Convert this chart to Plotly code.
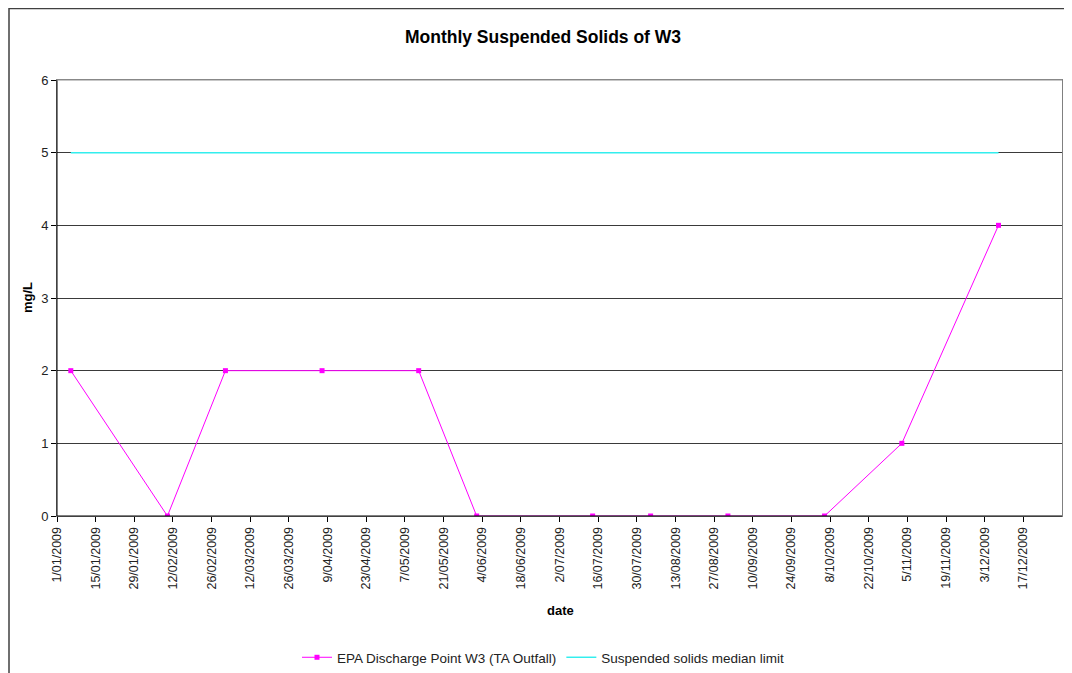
import plotly.graph_objects as go

dates = ["2009-01-06", "2009-02-10", "2009-03-03", "2009-04-07", "2009-05-12",
         "2009-06-02", "2009-07-14", "2009-08-04", "2009-09-01", "2009-10-06",
         "2009-11-03", "2009-12-08"]
solids = [2, 0, 2, 2, 2, 0, 0, 0, 0, 0, 1, 4]
limit = [5] * len(dates)

tick_vals = ["2009-01-01", "2009-01-15", "2009-01-29", "2009-02-12", "2009-02-26",
             "2009-03-12", "2009-03-26", "2009-04-09", "2009-04-23", "2009-05-07",
             "2009-05-21", "2009-06-04", "2009-06-18", "2009-07-02", "2009-07-16",
             "2009-07-30", "2009-08-13", "2009-08-27", "2009-09-10", "2009-09-24",
             "2009-10-08", "2009-10-22", "2009-11-05", "2009-11-19", "2009-12-03",
             "2009-12-17"]
tick_text = ["1/01/2009", "15/01/2009", "29/01/2009", "12/02/2009", "26/02/2009",
             "12/03/2009", "26/03/2009", "9/04/2009", "23/04/2009", "7/05/2009",
             "21/05/2009", "4/06/2009", "18/06/2009", "2/07/2009", "16/07/2009",
             "30/07/2009", "13/08/2009", "27/08/2009", "10/09/2009", "24/09/2009",
             "8/10/2009", "22/10/2009", "5/11/2009", "19/11/2009", "3/12/2009",
             "17/12/2009"]

FONT = "Liberation Sans, Arial, sans-serif"

fig = go.Figure()
fig.add_trace(go.Scatter(
    x=dates, y=solids, mode="lines+markers",
    name="EPA Discharge Point W3 (TA Outfall)",
    line=dict(color="#FF00FF", width=1),
    marker=dict(symbol="square", size=5, color="#FF00FF"),
))
fig.add_trace(go.Scatter(
    x=dates, y=limit, mode="lines",
    name="Suspended solids median limit",
    line=dict(color="#33EEEE", width=1.5),
))

# page body has an 8px margin: figure coords = window coords - 8
OFF = 8
W, H = 1072 - OFF, 673 - OFF
L, T = 57 - OFF, 80 - OFF
pw, ph = 1005, 436
R = W - L - pw
B = H - T - ph


def py(win_y):
    return (ph - (win_y - OFF - T)) / ph


def px(win_x):
    return (win_x - OFF - L) / pw


fig.update_layout(
    width=W, height=H,
    margin=dict(l=L, r=R, t=T, b=B),
    paper_bgcolor="white", plot_bgcolor="white",
    font=dict(family=FONT, size=12, color="black"),
    title=dict(text="<b>Monthly Suspended Solids of W3</b>", x=px(543), xref="paper",
               xanchor="center", y=(H - (37 - OFF)) / H, yanchor="middle",
               font=dict(family=FONT, size=17.5, color="black")),
    showlegend=True,
    legend=dict(orientation="h", x=px(543), xanchor="center",
                yref="container", y=-0.006, yanchor="bottom",
                font=dict(family=FONT, size=13.5, color="#222"),
                bgcolor="rgba(0,0,0,0)", itemwidth=30, tracegroupgap=0),
    xaxis=dict(
        type="date", range=["2009-01-01", "2009-12-31"],
        tickmode="array", tickvals=tick_vals, ticktext=tick_text,
        tickangle=-90, ticks="outside", ticklen=5, tickcolor="black",
        showgrid=False, zeroline=False,
        showline=True, linecolor="#808080", mirror=True, linewidth=1,
        tickfont=dict(family=FONT, size=12.5, color="#222"),
    ),
    yaxis=dict(
        range=[0, 6], dtick=1, ticks="outside", ticklen=5, tickcolor="black",
        showgrid=True, gridcolor="#3a3a3a", gridwidth=1, zeroline=False,
        showline=True, linecolor="#808080", mirror=True, linewidth=1,
        tickfont=dict(family=FONT, size=13, color="#222"),
    ),
    annotations=[
        dict(text="<b>date</b>", xref="paper", yref="paper", x=px(560), y=py(610),
             xanchor="center", yanchor="middle", showarrow=False,
             font=dict(family=FONT, size=13, color="black")),
        dict(text="<b>mg/L</b>", xref="paper", yref="paper", x=px(27), y=py(298),
             xanchor="center", yanchor="middle", showarrow=False, textangle=-90,
             font=dict(family=FONT, size=13, color="black")),
    ],
)

# black left and bottom axis lines
fig.add_shape(type="line", xref="paper", yref="paper", x0=0, x1=0, y0=0, y1=1,
              line=dict(color="black", width=1))
fig.add_shape(type="line", xref="paper", yref="paper", x0=0, x1=1, y0=0, y1=0,
              line=dict(color="black", width=1))
# top grid line lighter
fig.add_shape(type="line", xref="paper", yref="paper", x0=0, x1=1, y0=1, y1=1,
              line=dict(color="#909090", width=1))

# outer chart border
fig.add_shape(type="rect", xref="paper", yref="paper",
              x0=px(7.5 + 1.5), x1=px(1072 + 20),
              y0=py(673 + 20), y1=py(6.5 + 2),
              line=dict(color="#404040", width=1.5), fillcolor="rgba(0,0,0,0)",
              layer="below")

fig.write_html("out.html")
